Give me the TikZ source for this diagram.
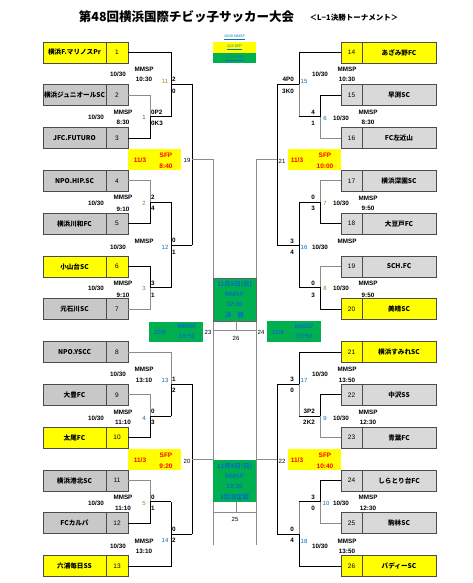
\documentclass[tikz,border=0pt]{standalone}
\usepackage{fontspec}
\setmainfont{Liberation Sans}
\newfontfamily\jp{Noto Sans CJK JP}
\definecolor{yl}{HTML}{FFFF00}
\definecolor{gL}{HTML}{C8C8C8}
\definecolor{gR}{HTML}{D9D9D9}
\definecolor{grn}{HTML}{00B050}
\definecolor{blu}{HTML}{0070C0}
\definecolor{org}{HTML}{C07000}
\newcommand\dOct{10/30}
\newcommand\dNovA{11/3}
\newcommand\dNovB{11/8}
\tikzset{
  bl/.style={draw=black, line width=0.9pt},
  gl/.style={draw=black!45, line width=0.9pt},
  namebox/.style={draw=black!70, line width=0.7pt, minimum height=21pt, inner sep=0pt, font=\jp\bfseries\fontsize{6.6}{7}\selectfont},
  numbox/.style={draw=black!70, line width=0.7pt, minimum height=21pt, inner sep=0pt, font=\fontsize{6.5}{7}\selectfont},
  info/.style={inner sep=0pt, font=\bfseries\fontsize{6.3}{7}\selectfont},
  score/.style={inner sep=0pt, font=\bfseries\fontsize{6.3}{7}\selectfont},
  mnum/.style={inner sep=0pt, font=\fontsize{6}{7}\selectfont},
  sfp/.style={inner sep=0pt, text=red, font=\bfseries\fontsize{6.5}{7}\selectfont},
  gtxt/.style={inner sep=0pt, text=blu, font=\bfseries\fontsize{6.3}{7}\selectfont},
  gjp/.style={inner sep=0pt, text=blu, font=\jp\bfseries\fontsize{6.3}{7}\selectfont},
  leg/.style={inner sep=0pt, text=blu, font=\fontsize{3.6}{4}\selectfont},
}
\begin{document}
\begin{tikzpicture}[x=1pt,y=-1pt]
\useasboundingbox (0,0) rectangle (472,583);
\fill[white] (0,0) rectangle (472,583);

% title
\node[inner sep=0pt, font=\jp\bfseries\fontsize{12.5}{13}\selectfont] (title) at (186.5,17) {第48回横浜国際チビッ子サッカー大会};
\node[inner sep=0pt, font=\jp\bfseries\fontsize{7.5}{8}\selectfont] (subtitle) at (354,18) {＜L−1決勝トーナメント＞};

% legend
\node[leg] (leg1) at (234.5,37) {\underline{10/30 MMSP}};
\node[fill=yl, minimum width=43pt, minimum height=11pt, inner sep=0pt] (leg2box) at (234.5,47.5) {};
\node[leg] (leg2) at (234.5,47.5) {\underline{11/3 SFP}};
\node[fill=grn, minimum width=43pt, minimum height=10pt, inner sep=0pt] (leg3box) at (234.5,58) {};
\node[leg] (leg3) at (234.5,58) {\underline{11/8 MMSP}};

% left teams
\foreach \i/\nm/\c in {1/横浜F.マリノスPr/yl, 2/横浜ジュニオールSC/gL, 3/JFC.FUTURO/gL, 4/NPO.HIP.SC/gL, 5/横浜川和FC/gL, 6/小山台SC/yl, 7/元石川SC/gL, 8/NPO.YSCC/gL, 9/大豊FC/gL, 10/太尾FC/yl, 11/横浜港北SC/gL, 12/FCカルパ/gL, 13/六浦毎日SS/yl}{
  \node[namebox, fill=\c, minimum width=63pt] (n\i) at (74.5,{52.5+(\i-1)*42.8}) {\nm};
  \node[numbox, fill=\c, minimum width=22pt] (t\i) at (117,{52.5+(\i-1)*42.8}) {\i};
}
% right teams
\foreach \i/\nm/\c in {14/あざみ野FC/yl, 15/早渕SC/gR, 16/FC左近山/gR, 17/横浜深園SC/gR, 18/大豆戸FC/gR, 19/SCH.FC/gR, 20/美晴SC/yl, 21/横浜すみれSC/yl, 22/中沢SS/gR, 23/青葉FC/gR, 24/しらとり台FC/gR, 25/駒林SC/gR, 26/バディーSC/yl}{
  \node[numbox, fill=\c, minimum width=21pt] (t\i) at (351.5,{52.5+(\i-14)*42.8}) {\i};
  \node[namebox, fill=\c, minimum width=74pt] (n\i) at (399,{52.5+(\i-14)*42.8}) {\nm};
}

% junction coordinates, left
\coordinate (m1) at (150,116.7); \coordinate (o1) at (171,116.7);
\coordinate (m2) at (150,202.3); \coordinate (o2) at (171,202.3);
\coordinate (m3) at (150,287.9); \coordinate (o3) at (171,287.9);
\coordinate (m4) at (150,416.3); \coordinate (o4) at (171,416.3);
\coordinate (m5) at (150,501.9); \coordinate (o5) at (171,501.9);
\coordinate (m11) at (171,84); \coordinate (o11) at (192,84);
\coordinate (m12) at (171,245.1); \coordinate (o12) at (192,245.1);
\coordinate (m13) at (171,384); \coordinate (o13) at (192,384);
\coordinate (m14) at (171,534); \coordinate (o14) at (192,534);
\coordinate (m19) at (192,159); \coordinate (o19) at (213,159);
\coordinate (m20) at (192,459); \coordinate (o20) at (213,459);
% right
\coordinate (m6) at (320,116.7); \coordinate (o6) at (299,116.7);
\coordinate (m7) at (320,202.3); \coordinate (o7) at (299,202.3);
\coordinate (m8) at (320,287.9); \coordinate (o8) at (299,287.9);
\coordinate (m9) at (320,416.3); \coordinate (o9) at (299,416.3);
\coordinate (m10) at (320,501.9); \coordinate (o10) at (299,501.9);
\coordinate (m15) at (299,84); \coordinate (o15) at (277,84);
\coordinate (m16) at (299,245.1); \coordinate (o16) at (277,245.1);
\coordinate (m17) at (299,384); \coordinate (o17) at (277,384);
\coordinate (m18) at (299,534); \coordinate (o18) at (277,534);
\coordinate (m21) at (277,159); \coordinate (o21) at (256,159);
\coordinate (m22) at (277,459); \coordinate (o22) at (256,459);
% centre
\coordinate (f23) at (213,330); \coordinate (f24) at (256,330); \coordinate (fc) at (236,330);
\coordinate (h23) at (213,512); \coordinate (h24) at (256,512); \coordinate (hc) at (236,512);
\coordinate (e23) at (213,545); \coordinate (e24) at (256,545);

% left bracket
\draw[gl] (t2.east) -| (m1);
\draw[bl] (t3.east) -| (m1) -- (o1);
\draw[bl] (t1.east) -| (o1);
\draw[bl] (m11) -- (o11);
\draw[gl] (t4.east) -| (m2);
\draw[bl] (t5.east) -| (m2) -- (o2);
\draw[bl] (t6.east) -| (m3) -- (o3);
\draw[gl] (t7.east) -| (m3);
\draw[bl] (o2) -- (o3);
\draw[bl] (m12) -- (o12);
\draw[bl] (o11) -- (o12);
\draw[gl] (m19) -- (o19);
\draw[gl] (t8.east) -| (m13);
\draw[bl] (o4) -- (m13) -- (o13);
\draw[gl] (t9.east) -| (m4);
\draw[bl] (t10.east) -| (m4) -- (o4);
\draw[gl] (t11.east) -| (m5);
\draw[bl] (t12.east) -| (m5) -- (o5);
\draw[bl] (t13.east) -| (o5);
\draw[bl] (m14) -- (o14);
\draw[bl] (o13) -- (o14);
\draw[gl] (m20) -- (o20);
% right bracket
\draw[bl] (t14.west) -| (m15) -- (o15);
\draw[gl] (m15) -- (o6);
\draw[bl] (t15.west) -| (m6) -- (o6);
\draw[gl] (t16.west) -| (m6);
\draw[gl] (t17.west) -| (m7);
\draw[bl] (t18.west) -| (m7) -- (o7);
\draw[gl] (t19.west) -| (m8);
\draw[bl] (t20.west) -| (m8) -- (o8);
\draw[bl] (o7) -- (o8);
\draw[bl] (m16) -- (o16);
\draw[bl] (o15) -- (o16);
\draw[gl] (m21) -- (o21);
\draw[bl] (t21.west) -| (m17) -- (o17);
\draw[gl] (m17) -- (o9);
\draw[bl] (t22.west) -| (m9) -- (o9);
\draw[gl] (t23.west) -| (m9);
\draw[bl] (t24.west) -| (m10) -- (o10);
\draw[gl] (t25.west) -| (m10);
\draw[gl] (o10) -- (m18);
\draw[bl] (t26.west) -| (m18) -- (o18);
\draw[bl] (o17) -- (o18);
\draw[gl] (m22) -- (o22);
% centre lines
\draw[gl] (o19) -- (e23);
\draw[gl] (o21) -- (e24);
\draw[gl] (f23) -- (f24);
\draw[gl] (h23) -- (h24);

% final and third place
\node[draw=black!60, fill=grn, minimum width=43pt, minimum height=43pt, inner sep=0pt] (final) at (234.5,299.5) {};
\node[gjp] (fl1) at (234.5,284) {11月8日(日)};
\node[gtxt] (fl2) at (234.5,294) {MMSP};
\node[gtxt] (fl3) at (234.5,304.5) {12:30};
\node[gjp] (fl4) at (234.5,315) {決\hspace{6pt}勝};
\node[fill=grn, minimum width=43pt, minimum height=42pt, inner sep=0pt] (third) at (234.5,481) {};
\node[gjp] (tl1) at (234.5,466) {11月8日(日)};
\node[gtxt] (tl2) at (234.5,476) {MMSP};
\node[gtxt] (tl3) at (234.5,486.5) {12:30};
\node[gjp] (tl4) at (234.5,497) {3位決定戦};
\draw[gl] (final.south -| fc) -- (fc);
\draw[gl] (third.south -| hc) -- (hc);

% semifinal green boxes
\node[fill=grn, minimum width=54pt, minimum height=20pt, inner sep=0pt] (sf23) at (176,332) {};
\node[gtxt] (sf23a) at (160,332) {\dNovB};
\node[gtxt] (sf23b) at (187,326.5) {MMSP};
\node[gtxt] (sf23c) at (187,336.5) {10:50};
\node[fill=grn, minimum width=54pt, minimum height=21pt, inner sep=0pt] (sf24) at (294,331.5) {};
\node[gtxt] (sf24a) at (278,332) {\dNovB};
\node[gtxt] (sf24b) at (304,326.5) {MMSP};
\node[gtxt] (sf24c) at (304,336.5) {10:50};

% SFP yellow boxes
\foreach \k/\x/\y in {19/154.5/159.5, 20/154.5/459.5, 21/314.5/159.5, 22/314.5/459.5}{
  \node[fill=yl, minimum width=53pt, minimum height=21pt, inner sep=0pt] (q\k) at (\x,\y) {};
}
\node[sfp] (q19a) at (140,160) {\dNovA};
\node[sfp] (q19b) at (166,155) {SFP};
\node[sfp] (q19c) at (166,166) {8:40};
\node[sfp] (q20a) at (140,460) {\dNovA};
\node[sfp] (q20b) at (166,455) {SFP};
\node[sfp] (q20c) at (166,466) {9:20};
\node[sfp] (q21a) at (297,160) {\dNovA};
\node[sfp] (q21b) at (325,155) {SFP};
\node[sfp] (q21c) at (325,166) {10:00};
\node[sfp] (q22a) at (297,460) {\dNovA};
\node[sfp] (q22b) at (325,455) {SFP};
\node[sfp] (q22c) at (325,466) {10:40};

% match numbers
\foreach \t/\x/\y/\c in {1/144/117/blu, 11/165/81/org, 2/144/203/org, 12/165/247/blu, 3/144/288/org, 19/187/160/black, 13/165/380/blu, 4/144/418/blu, 5/144/503/org, 14/165/540/blu, 20/187/461/black, 23/208/332/black,
  15/304/81/blu, 6/325/118/blu, 21/282/161/black, 7/325/203/org, 8/325/288/org, 16/304/247/blu, 17/304/380/blu, 9/325/418/blu, 22/282/461/black, 10/326/503/blu, 18/304/541/blu, 24/261/332/black, 26/236/338/black, 25/235/519/black}{
  \node[mnum, text=\c] (mn\t) at (\x,\y) {\t};
}

% scores, left (west anchored)
\foreach [count=\k] \s/\x/\y in {0P2/151/112, 0K3/151/123, 2/172/79, 0/172/91, 2/151/197, 4/151/208, 0/172/240, 1/172/252, 3/151/283, 1/151/295, 1/172/379, 2/172/390, 0/151/411, 3/151/422, 0/151/497, 1/151/508, 0/172/529, 2/172/540}{
  \node[score, anchor=west] (sl\k) at (\x,\y) {\s};
}
% scores, right (east anchored)
\foreach [count=\k] \s/\x/\y in {4P0/294/79, 3K0/294/91, 4/315/112, 1/315/123, 0/315/197, 3/315/208, 0/315/283, 3/315/295, 3/294/241, 4/294/252, 3/294/379, 0/294/390, 3P2/315/411, 2K2/315/422, 3/315/497, 0/315/508, 0/294/529, 4/294/540}{
  \node[score, anchor=east] (sr\k) at (\x,\y) {\s};
}

% date / venue / time
\foreach [count=\k] \x/\y/\t in {118/74/\dOct, 144/69/MMSP, 144/79/10:30,
  96/117/\dOct, 123/112/MMSP, 123/122/8:30,
  96/203/\dOct, 123/197/MMSP, 123/209/9:10,
  118/247/\dOct, 144/241/MMSP,
  96/288/\dOct, 123/283/MMSP, 123/295/9:10,
  118/374/\dOct, 144/369/MMSP, 144/380/13:10,
  96/418/\dOct, 123/412/MMSP, 123/422/11:10,
  96/503/\dOct, 123/497/MMSP, 123/508/11:10,
  118/546/\dOct, 144/541/MMSP, 144/551/13:10,
  320/74/\dOct, 347/69/MMSP, 347/79/10:30,
  341/118/\dOct, 368/112/MMSP, 368/122/8:30,
  341/203/\dOct, 368/198/MMSP, 368/208/9:50,
  341/288/\dOct, 368/283/MMSP, 368/295/9:50,
  320/247/\dOct, 347/241/MMSP,
  320/374/\dOct, 347/369/MMSP, 347/380/13:50,
  341/418/\dOct, 368/412/MMSP, 368/422/12:30,
  341/503/\dOct, 368/497/MMSP, 368/508/12:30,
  320/546/\dOct, 347/541/MMSP, 347/551/13:50}{
  \node[info] (inf\k) at (\x,\y) {\t};
}
\end{tikzpicture}
\end{document}
